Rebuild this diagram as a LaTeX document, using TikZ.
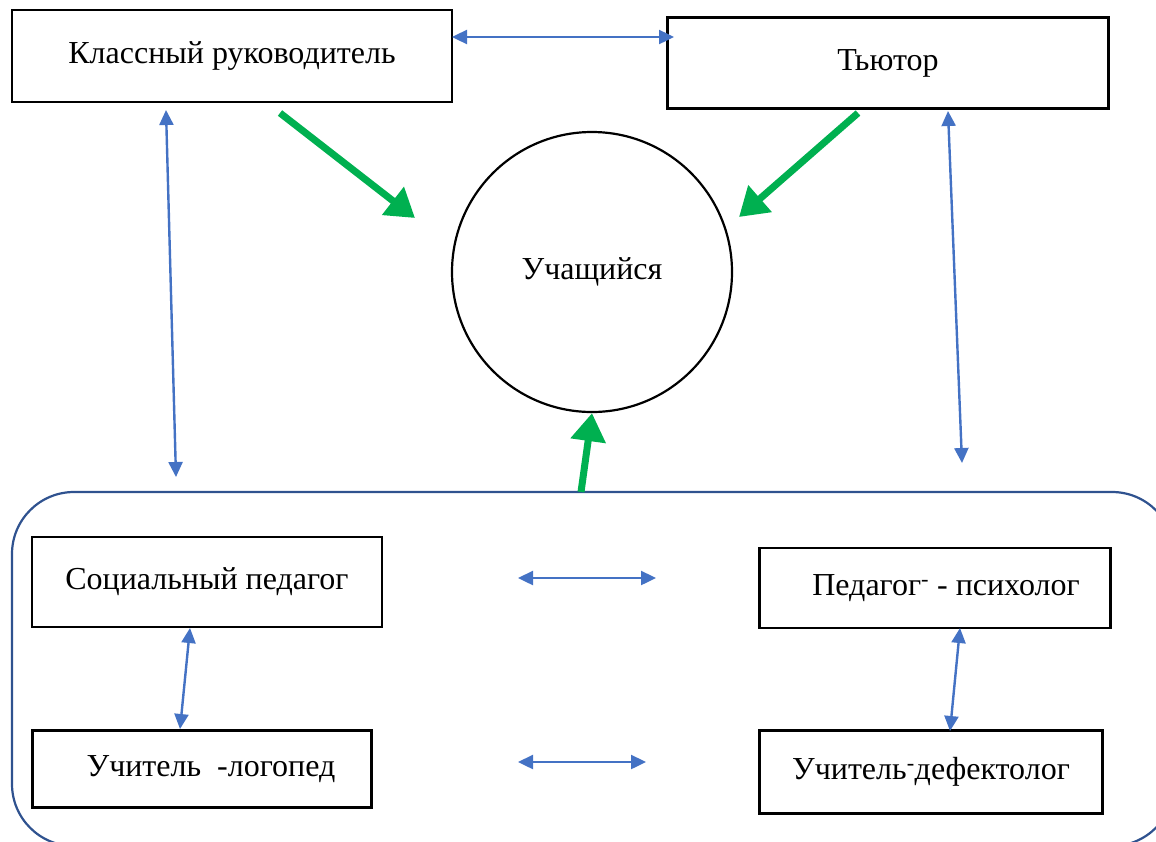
\documentclass[tikz,border=0pt]{standalone}
\usepackage{fontspec}
\setmainfont{Liberation Serif}
\usepackage{tikz}
\usetikzlibrary{arrows.meta}
\definecolor{linkblue}{HTML}{4472C4}
\definecolor{framblue}{HTML}{2F528F}
\definecolor{actgreen}{HTML}{00B050}

\tikzset{
    rolebox/.style={draw=black, line width=2.5pt, rectangle, inner sep=0pt, font=\fontsize{32}{38}\selectfont},
    link/.style={draw=linkblue, line width=2.4pt, {Triangle[length=15pt,width=14pt]}-{Triangle[length=15pt,width=14pt]}},
    act/.style={draw=actgreen, line width=7pt, -{Triangle[length=28pt,width=34pt]}}
}

\begin{document}
\begin{tikzpicture}[x=1pt, y=-1pt]
    \useasboundingbox (0,0) rectangle (1156,841);

    % Draw the outer frame of the support team
    \draw[framblue, line width=2.2pt, rounded corners=62pt] (12,492) rectangle (1174,846);

    % Draw the boxes
    \node[rolebox, minimum width=440pt, minimum height=92pt] (Curator) at (232,56) {Классный руководитель};
    \node[rolebox, minimum width=441pt, minimum height=91pt] (Tutor) at (888,63) {Тьютор};
    \node[draw=black, line width=2.2pt, circle, minimum size=280pt, font=\fontsize{32}{38}\selectfont] (Pupil) at (592,272) {Учащийся};
    \node[rolebox, minimum width=350pt, minimum height=90pt] (Social) at (207,582) {Социальный педагог};
    \node[rolebox, minimum width=351pt, minimum height=80pt] (Psych) at (935,588) {\hspace*{22pt}Педагог\textsuperscript{-} - психолог};
    \node[rolebox, minimum width=339pt, minimum height=77pt] (Logo) at (202,769) {\hspace*{18pt}Учитель\hspace{0.5em}-логопед};
    \node[rolebox, minimum width=343pt, minimum height=83pt] (Defect) at (931,772) {Учитель\textsuperscript{-}дефектолог};

    % Define coordinates for the free ends of the arrows
    \coordinate (C1) at (452,37);
    \coordinate (T1) at (674,37);
    \coordinate (C2) at (166,110);
    \coordinate (S1) at (176,477);
    \coordinate (T2) at (948,111);
    \coordinate (P1) at (962,463);
    \coordinate (S2) at (190,628);
    \coordinate (L1) at (180,729);
    \coordinate (P2) at (960,628);
    \coordinate (D1) at (950,731);
    \coordinate (S3) at (518,578);
    \coordinate (P3) at (656,578);
    \coordinate (L2) at (518,762);
    \coordinate (D2) at (646,762);
    \coordinate (C3) at (280,113);
    \coordinate (T3) at (858,113);
    \coordinate (G1) at (581,492);

    % Connect the members with each other
    \draw[link] (C1) -- (T1);
    \draw[link] (C2) -- (S1);
    \draw[link] (T2) -- (P1);
    \draw[link] (S2) -- (L1);
    \draw[link] (P2) -- (D1);
    \draw[link] (S3) -- (P3);
    \draw[link] (L2) -- (D2);

    % Arrows towards the pupil
    \draw[act] (C3) -- (415,218);
    \draw[act] (T3) -- (739,217);
    \draw[act] (G1) -- (Pupil.south);
\end{tikzpicture}
\end{document}
